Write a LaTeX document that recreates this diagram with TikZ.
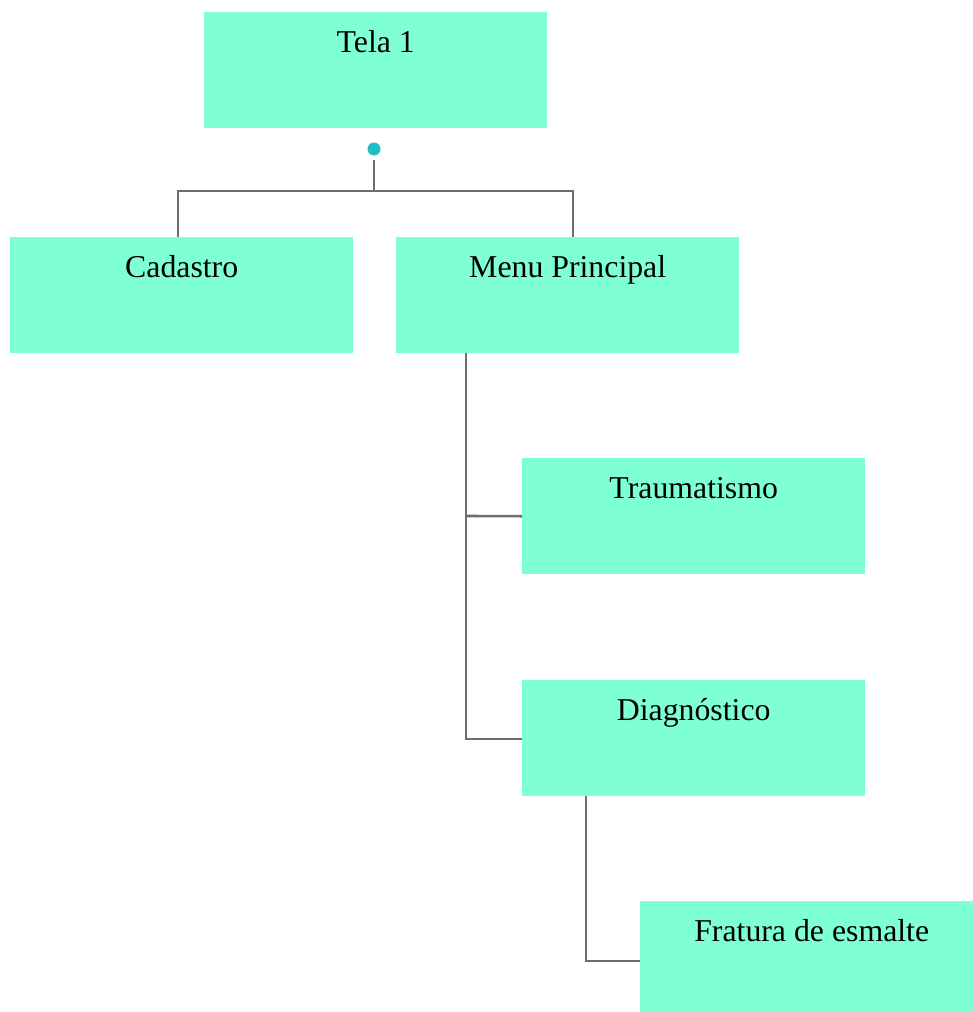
\documentclass[tikz,border=0pt]{standalone}
\usepackage{fontspec}
\setmainfont{Liberation Serif}
\definecolor{boxfill}{HTML}{7FFFD4}
\definecolor{linecol}{HTML}{6E6E6E}
\definecolor{dotcol}{HTML}{22BEC4}
\begin{document}
\begin{tikzpicture}[x=1pt,y=-1pt,
  box/.style={draw=none,fill=boxfill,anchor=north west,inner sep=0pt,
    minimum width=343pt,text height=40pt,text depth=76pt,
    font=\fontsize{31.8}{36}\selectfont},
  conn/.style={draw=linecol,line width=2.6pt}]
\useasboundingbox (0,0) rectangle (973,1012);
\clip (0,0) rectangle (973,1012);
\node[box] (tela) at (204,12) {Tela 1};
\node[box] (cad) at (10,237) {Cadastro};
\node[box] (menu) at (396,237) {Menu Principal};
\node[box] (trauma) at (522,458) {Traumatismo};
\node[box] (diag) at (522,680) {Diagnóstico};
\node[box] (frat) at (640,901) {Fratura de esmalte};
\node[circle,fill=dotcol,inner sep=0pt,minimum size=13pt] (dot) at (374,149) {};
\coordinate (j0t) at (374,160);
\coordinate (j0) at (374,191);
\coordinate (jl) at (178,191);
\coordinate (jr) at (573,191);
\coordinate (m1) at (466,516);
\coordinate (m2) at (466,739);
\coordinate (d1) at (586,961);
\draw[conn] (j0t) -- (j0);
\draw[conn] (cad.north -| jl) -- (jl) -- (jr) -- (menu.north -| jr);
\draw[conn] (menu.south -| m1) -- (m2) -- (diag.west |- m2);
\draw[conn] (m1) -- (trauma.west);
\draw[conn] (diag.south -| d1) -- (d1) -- (frat.west |- d1);
\end{tikzpicture}
\end{document}
